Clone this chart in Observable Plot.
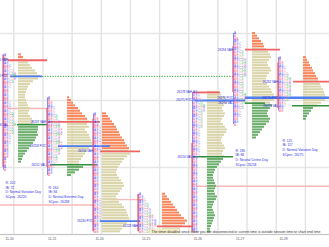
<!DOCTYPE html>
<html>
<head>
<meta charset="utf-8">
<script src="https://cdn.jsdelivr.net/npm/d3@7"></script>
<script src="https://cdn.jsdelivr.net/npm/@observablehq/plot@0.6"></script>
<style>
html,body{margin:0;padding:0;background:#fff;}
#chart svg{display:block;}
</style>
</head>
<body>
<div id="chart"></div>
<script>
// ---------- data (x in session-time units, y in price points) ----------
const dayLabels = ["11-20", "11-21", "11-24", "11-25", "11-26", "11-27", "11-28"];
const dayTickX = [1.85, 10.64, 20.37, 29.98, 40.6, 49.32, 58.23];
const gridX = [2.74, 8.74, 14.74, 20.74, 26.74, 32.74, 38.74, 44.74, 50.74, 56.74, 62.74];
const gridY = [26225, 26250, 26275, 26300];

const tpoX = [0.62, 9.67, 19.14, 28.40, 39.51, 47.94, 57.20];
const histX = [3.70, 13.79, 20.99, 33.33, 42.59, 51.85, 62.35];
const profileTop = [26292, 26276, 26270, 26240, 26278, 26300, 26291];
const vahPrice = [26290, 26267, 26256, 26228, 26278, 26294, 26282];
const pocPrice = [26284, 26258, 26230, null, 26275, 26276, 26276];
const valPrice = [26266, 26251, null, null, 26254, 26274, 26273];

// volume per price row (top to bottom)
const vol1 = [3,5,8,10,12,14,17,19,22,20,15,12,10,9,8,7,7,8,9,10,12,11,10,12,14,15,15,20,20,19,20,18,17,15,13,11,9,7,5,4,3];
const vol2 = [2,4,6,8,11,13,15,18,20,22,20,22,18,20,22,23,24,25,26,22,20,18,16,14,12,12,16,12,8,4];
const vol3 = [4,6,8,10,12,14,15,17,18,20,22,23,25,27,26,28,25,22,20,18,16,15,14,15,17,19,21,22,20,18,16,14,15,17,20,22,24,25,26,27,28,25,22,20,18];
const vol4 = [3,5,7,9,11,13,15,17,19,22,25,23,20,18,16];
const vol5 = [12,14,18,22,20,17,15,16,18,17,15,14,16,18,20,19,17,15,14,15,17,18,16,15,17,16,14,12,10,8,7,6,6,7,8,9,8,7,8,10,9,7,6,5,6,7,8,7,6,5,4,3,3];
const vol6 = [3,5,7,9,11,12,14,16,18,19,17,15,16,18,19,17,15,14,13,15,17,19,20,22,25,22,18,20,18,16,15,16,18,17,14,12,10,8,6,4];
const vol7 = [3,4,6,7,9,10,12,13,15,15,17,18,20,21,22,24,22,18,14,10,8,6,4,3];

// TPO letters per price row (top to bottom)
const tpo1 = [1,1,2,2,3,3,4,5,5,5,4,3,3,2,2,2,2,2,3,3,3,3,4,4,4,4,5,4,4,4,3,3,3,3,2,2,2,2,2,1,1,1,1,1];
const tpo2 = [1,1,2,2,3,3,3,4,4,5,5,5,6,6,6,5,5,6,6,6,5,5,4,4,4,3,3,2,2,1];
const tpo3 = [1,1,2,2,2,3,3,3,3,3,3,3,3,3,3,3,2,2,2,2,2,2,2,2,2,2,2,2,2,2,2,2,3,3,3,3,3,3,3,3,3,2,2,2,2];
const tpo4 = [1,2,3,3,4,4,5,5,6,6,7,7,7,6,6];
const tpo5 = [2,3,3,4,4,5,5,5,4,4,4,4,4,4,3,3,3,3,3,3,3,3,3,3,3,2,2,2,2,2,2,2,2,2,2,2,2,2,2,2,2,2,2,2,2,2,2,2,2,2,2,2,2];
const tpo6 = [1,1,2,2,3,3,3,4,4,4,5,5,5,5,5,5,5,4,4,4,4,4,4,5,5,5,5,4,4,3,3,3,2,2,1];
const tpo7 = [1,1,2,2,3,3,4,4,5,5,5,5,5,5,5,4,4,3,3,2,2];

// level line spans (session-time units)
const vahSpan = [[1.65,9.67],[9.67,20.58],[20.58,28.81],[32.3,39.51],[39.71,45.27],[50.41,57.61],[60.29,67.7]];
const pocSpan = [[2.06,8.64],[11.93,22.63],[20.58,28.81],null,[40.12,50.41],[50.41,67.7],[60.29,67.7]];
const valSpan = [[3.5,9.67],[10.29,19.96],null,null,[39.51,47.94],[50.41,54.53],[60.08,67.7]];
const labelX = [1.65, 9.47, 19.14, 28.40, 39.51, 47.94, 57.20];

const ibHigh = [26292, 26272, 26268, 26240, 26259, 26295, 26289];
const ibLow  = [26250, 26250, 26226, 26226, 26226, 26278, 26272];

const nakedPocPrice = [26284];
const nakedPocFrom = [8.64];
const nakedPocTo = [47.94];

const refPrice = [26272, 26236, 26238, 26243];
const refFrom = [1.65, 0, 22.63, 40.53];
const refTo = [9.67, 19.14, 29.42, 67.7];

const infoR = [202, 160, 180, 125];
const infoIB = [72, 84, 86, 117];
const infoType = ["Normal Variation Day", "Neutral Extreme Day", "Neutral Centre Day", "Normal Variation Day"];
const infoSC = [26220, 26268, 26258, 26275];
const infoX = [1.03, 9.88, 48.35, 58.02];
const infoTop = [26245.0, 26243.3, 26257.1, 26260.8];

const timerMsg = "The timer disabled since either you are disconnected or current time is outside session time or chart end time";
const timerX = 31.07, timerY = 26226.1;

// ---------- build tables ----------
const vols = [vol1, vol2, vol3, vol4, vol5, vol6, vol7];
const tpos = [tpo1, tpo2, tpo3, tpo4, tpo5, tpo6, tpo7];
const volUnit = 1 / 4.86;
const letterStep = 0.52;
const letters = "ABCDEFGHIJ";
const letterColors = ["#3a3aff", "#f0648c", "#7a7aff", "#e896b6", "#45b04f", "#b070e0", "#f08080"];

const bars = [];
vols.forEach((v, i) => v.forEach((len, k) => {
  const p = profileTop[i] - k;
  const zone = p > vahPrice[i] ? "above" : (valPrice[i] != null && p < valPrice[i]) ? "below" : "va";
  bars.push({day: i, price: p, x1: histX[i], x2: histX[i] + len * volUnit, zone});
}));

const cells = [];
tpos.forEach((t, i) => t.forEach((n, k) => {
  for (let j = 0; j < n; j++) {
    cells.push({x: tpoX[i] + (j + 0.6) * letterStep, price: profileTop[i] - k, letter: letters[j], col: (j + k) % 3 === 0 ? j : j + 1});
  }
}));

const levels = [];
const labels = [];
dayLabels.forEach((d, i) => {
  [["VAH", vahPrice, vahSpan], ["POC", pocPrice, pocSpan], ["VAL", valPrice, valSpan]].forEach(([kind, pr, sp]) => {
    if (pr[i] == null) return;
    if (sp[i]) levels.push({kind, price: pr[i], x1: sp[i][0], x2: sp[i][1], day: i});
    labels.push({kind, price: pr[i], x: labelX[i], text: pr[i] + " " + kind});
  });
});

const ib = dayLabels.map((d, i) => ({x: tpoX[i], y1: ibLow[i], y2: ibHigh[i], top: profileTop[i], bottom: profileTop[i] - tpos[i].length + 1}));
const refs = refPrice.map((p, i) => ({price: p, x1: refFrom[i], x2: refTo[i]}));
const naked = nakedPocPrice.map((p, i) => ({price: p, x1: nakedPocFrom[i], x2: nakedPocTo[i]}));
const infos = infoR.map((r, i) => ({x: infoX[i], price: infoTop[i],
  text: `R: ${r}\nIB: ${infoIB[i]}\nD: ${infoType[i]}\nSCpoc: ${infoSC[i]}`}));
const tickLabel = new Map(dayTickX.map((x, i) => [x, dayLabels[i]]));

const half = 0.38;
const zoneFill = {above: "#f7875c", va: "#dad4aa", below: "#6cae6c"};

const chart = Plot.plot({
  width: 329,
  height: 247,
  marginTop: 0,
  marginRight: 0,
  marginBottom: 13,
  marginLeft: 0,
  x: {domain: [0, 67.7]},
  y: {domain: [26225, 26312.3], axis: null},
  style: {fontFamily: "'Liberation Sans', Arial, sans-serif", fontSize: "4px", background: "#ffffff", overflow: "hidden"},
  marks: [
    Plot.gridX(gridX, {stroke: "#e3e3e3", strokeOpacity: 1, strokeWidth: 1.4}),
    Plot.gridY(gridY, {stroke: "#e6e6e6", strokeOpacity: 1, strokeWidth: 1.4}),
    Plot.ruleY([26225], {stroke: "#c4c4c4", strokeWidth: 1}),
    // reference (light red) lines
    Plot.ruleY(refs, {y: "price", x1: "x1", x2: "x2", stroke: "#f6b8b8", strokeWidth: 1.4}),
    // naked POC
    Plot.ruleY(naked, {y: "price", x1: "x1", x2: "x2", stroke: "#3aa83a", strokeWidth: 1, strokeDasharray: "1.3,1.3"}),
    // volume profile bars
    ...["above", "va", "below"].map(z => Plot.rect(bars.filter(b => b.zone === z), {
      x1: "x1", x2: "x2", y1: d => d.price - half, y2: d => d.price + half, fill: zoneFill[z], clip: true
    })),
    // value area / POC lines
    Plot.ruleY(levels.filter(l => l.kind === "VAH"), {y: "price", x1: "x1", x2: "x2", stroke: "#f06464", strokeWidth: 1.8, clip: true}),
    Plot.ruleY(levels.filter(l => l.kind === "VAL"), {y: "price", x1: "x1", x2: "x2", stroke: "#2f8f3f", strokeWidth: 1.5, clip: true}),
    Plot.ruleY(levels.filter(l => l.kind === "POC"), {y: "price", x1: "x1", x2: "x2", stroke: "#4f7ff0", strokeWidth: d => d.day === 5 ? 2.6 : 1.8, clip: true}),
    // initial balance / range verticals
    Plot.ruleX(ib, {x: "x", y1: "bottom", y2: "top", stroke: "#6a6aff", strokeWidth: 0.8}),
    Plot.ruleX(ib, {x: "x", y1: "y1", y2: "y2", stroke: "#f05a5a", strokeWidth: 1, dx: -0.6}),
    // TPO letters
    Plot.text(cells, {x: "x", y: "price", text: "letter", fontSize: 2.9, fill: d => letterColors[d.col % letterColors.length], textAnchor: "middle", clip: true}),
    // level labels
    Plot.text(labels, {x: "x", y: "price", text: "text", textAnchor: "end", fontSize: 3, fill: "#2a2ad8", dx: -0.5, clip: true}),
    // session info
    Plot.text(infos, {x: "x", y: "price", text: "text", textAnchor: "start", lineAnchor: "top", fontSize: 3.3, lineHeight: 1.4, fill: "#3232e6"}),
    // timer message
    Plot.rect([timerMsg], {x1: timerX - 0.2, x2: timerX + 5.6, y1: timerY - 0.9, y2: timerY + 0.9, fill: "#f2edc6"}),
    Plot.text([timerMsg], {x: timerX, y: timerY, text: d => d, textAnchor: "start", fontSize: 3.5, fill: "#333333"}),
    // x axis with session dates
    Plot.axisX(dayTickX, {tickFormat: d => tickLabel.get(d), tickSize: 0, tickPadding: 3, fontSize: 3.3, color: "#555555"})
  ]
});

document.getElementById("chart").appendChild(chart);
</script>
</body>
</html>
